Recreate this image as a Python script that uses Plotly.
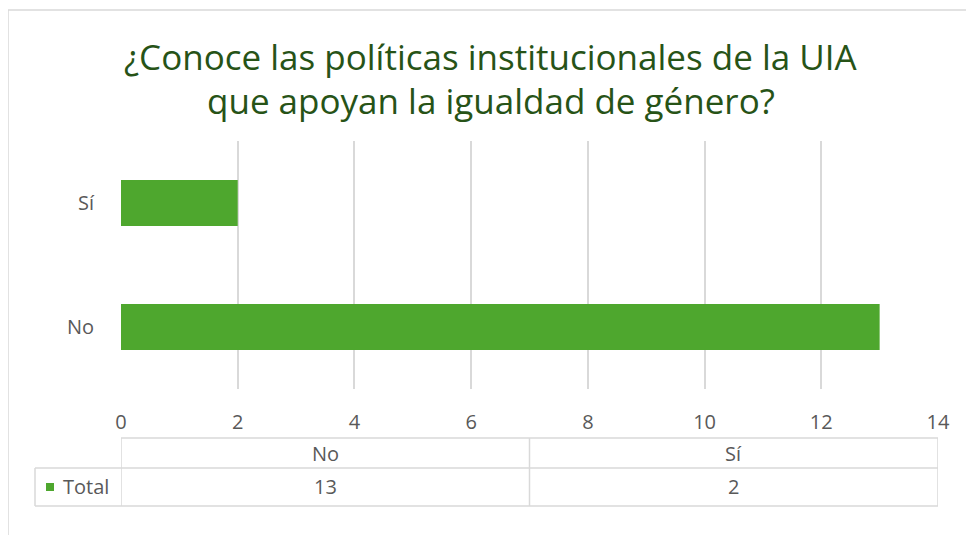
import plotly.graph_objects as go

# Data
categories = ["No", "Sí"]
totals = [13, 2]
series_name = "Total"
title_lines = ["¿Conoce las políticas institucionales de la UIA",
               "que apoyan la igualdad de género?"]
x_ticks = [0, 2, 4, 6, 8, 10, 12, 14]

BAR = "#4EA72E"
GRID = "#D9D9D9"
TXT = "#595959"
TITLE = "#275317"
FONT = "Open Sans"

# the page body adds an 8px margin, so the figure is 8px smaller than the window
OFF = 8
W, H = 974 - OFF, 535 - OFF
L, R, T, B = 121 - OFF, 36, 141 - OFF, 146
PW, PH = W - L - R, H - T - B


def px_x(p):
    # window pixel -> paper x
    return (p - OFF - L) / PW


def px_y(p):
    # window pixel -> paper y
    return (H - B - (p - OFF)) / PH


fig = go.Figure()
fig.add_trace(go.Bar(
    x=totals, y=categories, orientation="h",
    marker_color=BAR, marker_line_width=0,
    name=series_name, showlegend=False,
))

xmax = x_ticks[-1]
shapes = []
annotations = []

# chart frame
shapes.append(dict(type="rect", xref="paper", yref="paper",
                   x0=px_x(8), x1=px_x(990), y0=px_y(560), y1=px_y(10),
                   line=dict(color=GRID, width=1.5), layer="below"))

# data table under the axis
col_w = xmax / len(categories)
y_top, y_mid, y_bot = px_y(438), px_y(468), px_y(506)
tcell = dict(color=GRID, width=1.5)
shapes.append(dict(type="line", xref="x", yref="paper", x0=0, x1=xmax, y0=y_top, y1=y_top, line=tcell))
shapes.append(dict(type="line", xref="paper", yref="paper", x0=px_x(35), x1=1, y0=y_mid, y1=y_mid, line=tcell))
shapes.append(dict(type="line", xref="paper", yref="paper", x0=px_x(35), x1=1, y0=y_bot, y1=y_bot, line=tcell))
shapes.append(dict(type="line", xref="paper", yref="paper", x0=px_x(35), x1=px_x(35), y0=y_mid, y1=y_bot, line=tcell))
for i in range(len(categories) + 1):
    shapes.append(dict(type="line", xref="x", yref="paper", x0=i * col_w, x1=i * col_w,
                       y0=y_top, y1=y_bot, line=tcell))
cell_font = dict(size=20, color=TXT, family=FONT)
for i, (c, v) in enumerate(zip(categories, totals)):
    xc = (i + 0.5) * col_w
    annotations.append(dict(x=xc, y=(y_top + y_mid) / 2, xref="x", yref="paper", text=c,
                            xanchor="center", yanchor="middle", showarrow=False, font=cell_font))
    annotations.append(dict(x=xc, y=(y_mid + y_bot) / 2, xref="x", yref="paper", text=str(v),
                            xanchor="center", yanchor="middle", showarrow=False, font=cell_font))

# legend key + series name
shapes.append(dict(type="rect", xref="paper", yref="paper",
                   x0=px_x(46), x1=px_x(54), y0=px_y(491), y1=px_y(483),
                   fillcolor=BAR, line_width=0))
annotations.append(dict(x=px_x(61), y=(y_mid + y_bot) / 2, xref="paper", yref="paper",
                        text=series_name, xanchor="left", yanchor="middle", showarrow=False,
                        font=cell_font))

# title, two lines
for txt, yp in zip(title_lines, [56, 101]):
    annotations.append(dict(x=px_x(491), y=px_y(yp), xref="paper", yref="paper",
                            text=txt, showarrow=False, xanchor="center", yanchor="middle",
                            font=dict(size=35, color=TITLE, family=FONT)))

fig.update_layout(
    width=W, height=H,
    margin=dict(l=L, r=R, t=T, b=B),
    paper_bgcolor="white", plot_bgcolor="white",
    bargap=0.63,
    shapes=shapes, annotations=annotations,
    font=dict(family=FONT, color=TXT),
)
fig.update_xaxes(range=[0, xmax], tickvals=x_ticks, showgrid=True, gridcolor=GRID, gridwidth=1.5,
                 zeroline=False, showline=False, ticks="", ticklabelstandoff=19,
                 tickfont=dict(size=20, color=TXT, family=FONT), fixedrange=True)
fig.update_yaxes(showgrid=False, zeroline=False, showline=False, ticks="", ticklabelstandoff=26,
                 tickfont=dict(size=20, color=TXT, family=FONT), fixedrange=True)

fig.write_html("out.html", config=dict(displayModeBar=False))
